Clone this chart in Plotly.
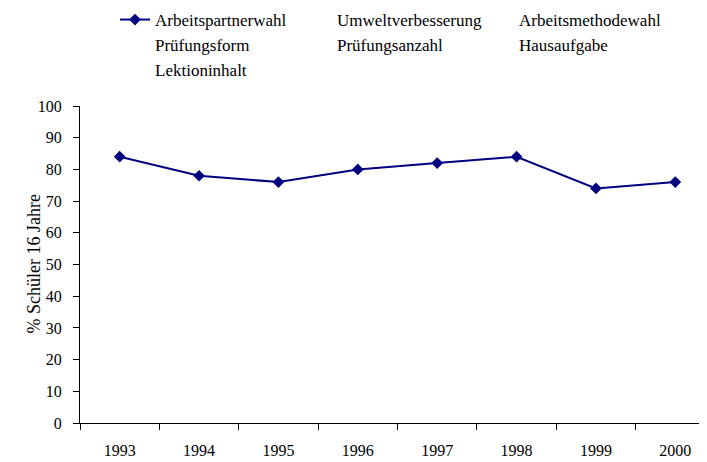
import plotly.graph_objects as go

years = ["1993", "1994", "1995", "1996", "1997", "1998", "1999", "2000"]
arbeitspartnerwahl = [84, 78, 76, 80, 82, 84, 74, 76]
empty_series = ["Umweltverbesserung", "Arbeitsmethodewahl", "Prüfungsform",
                "Prüfungsanzahl", "Hausaufgabe", "Lektioninhalt"]
y_ticks = [0, 10, 20, 30, 40, 50, 60, 70, 80, 90, 100]
y_title = "% Schüler 16 Jahre"

FONT = "Liberation Serif, Times New Roman, serif"
# page has an 8px body margin; figure is offset accordingly
L, T, B = 72, 98, 47
PH = 462 - T - B
PW = 707 - L

fig = go.Figure()
fig.add_trace(go.Scatter(
    x=years, y=arbeitspartnerwahl, name="Arbeitspartnerwahl",
    mode="lines+markers",
    line=dict(color="#000080", width=2),
    marker=dict(symbol="diamond", size=9, color="#000080"),
))
for name in empty_series:
    fig.add_trace(go.Scatter(x=[None], y=[None], name=name, mode="none"))

fig.update_layout(
    width=707, height=462,
    margin=dict(l=L, r=0, t=T, b=B, autoexpand=False),
    paper_bgcolor="white", plot_bgcolor="white",
    font=dict(family=FONT, size=17, color="black"),
    showlegend=True,
    legend=dict(
        orientation="h", xref="paper", yref="paper",
        x=(107 - L) / PW, y=1 + (T + 6) / PH, xanchor="left", yanchor="top",
        entrywidth=137, entrywidthmode="pixels",
        font=dict(family=FONT, size=17, color="black"),
        bgcolor="rgba(0,0,0,0)",
    ),
    xaxis=dict(
        type="category", range=[-0.5, 7.5], automargin=False,
        showline=True, linecolor="black", linewidth=1,
        ticks="outside", ticklen=6, tickcolor="black", tickson="boundaries",
        showgrid=False, zeroline=False, ticklabelstandoff=13,
        tickfont=dict(family=FONT, size=16),
    ),
    yaxis=dict(
        range=[0, 100], tickvals=y_ticks, automargin=False,
        showline=True, linecolor="black", linewidth=1,
        ticks="outside", ticklen=6, tickcolor="black",
        showgrid=False, zeroline=False, ticklabelstandoff=8,
        tickfont=dict(family=FONT, size=16),
    ),
    annotations=[dict(
        text=y_title, textangle=-90, showarrow=False,
        xref="paper", yref="paper", x=(25 - L) / PW, y=0.5,
        xanchor="center", yanchor="middle",
        font=dict(family=FONT, size=18, color="black"),
    )],
)

fig.write_html("out.html")
